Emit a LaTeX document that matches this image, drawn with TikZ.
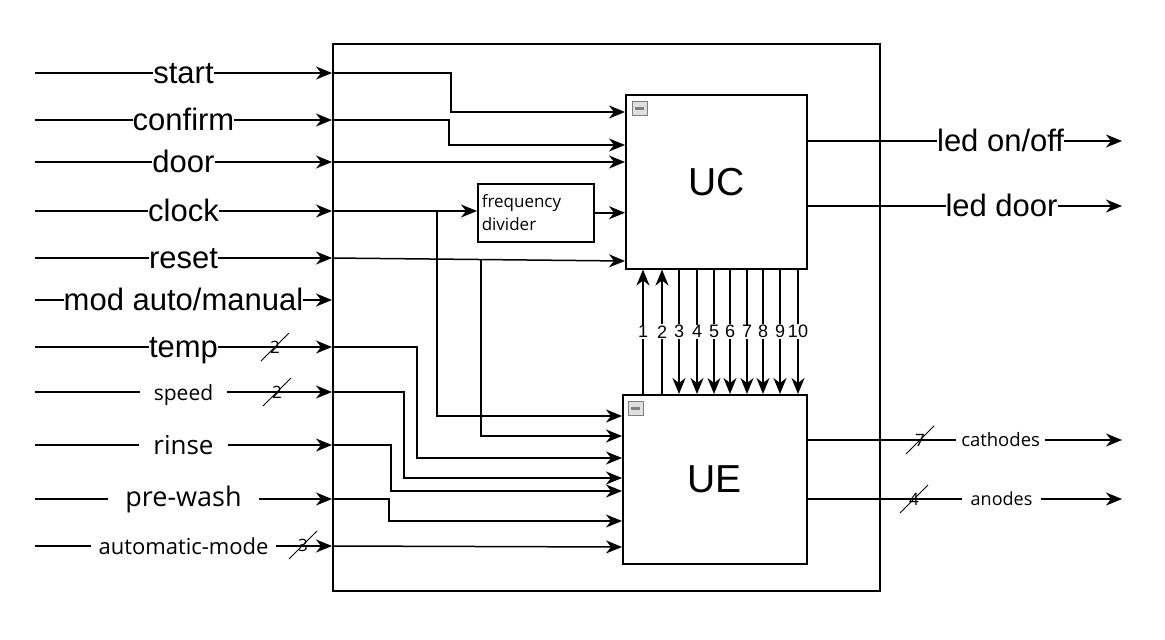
\documentclass[tikz,border=0pt]{standalone}
\usepackage{fontspec}
\setmainfont{Liberation Sans}
\newfontfamily\segoe{Open Sans}
\usetikzlibrary{arrows.meta,positioning,calc}

\begin{document}
\begin{tikzpicture}[x=1pt, y=-1pt,
  arr/.style={-{Stealth[length=16pt,width=13pt,inset=5pt]}, line width=1.5pt},
  blk/.style={draw, line width=1.5pt, anchor=north west, inner sep=0pt},
  biglbl/.style={font=\fontsize{31}{31}\selectfont, fill=white, inner sep=0pt, text height=28pt, text depth=8pt},
  smlbl/.style={font=\segoe\fontsize{#1}{#1}\selectfont, fill=white, inner ysep=0pt},
  numlbl/.style={font=\fontsize{18}{18}\selectfont, fill=white, inner sep=1pt},
  busline/.style={line width=0.9pt},
  busnum/.style={font=\segoe\fontsize{17}{17}\selectfont, inner sep=0pt},
  minus/.style={draw=gray, line width=0.8pt, fill=gray!25, minimum width=15pt, minimum height=14pt, inner sep=0pt, anchor=north west,
    path picture={\draw[line width=2.6pt] ([xshift=3pt]path picture bounding box.west) -- ([xshift=-3pt]path picture bounding box.east);}}
]
  \useasboundingbox (0,0) rectangle (1165,640);

  % blocks
  \node[blk, minimum width=547pt, minimum height=547pt] (sys) at (332,43) {};
  \node[blk, minimum width=181pt, minimum height=174pt, font=\fontsize{39}{39}\selectfont] (uc) at (625,94) {UC};
  \node[blk, minimum width=184pt, minimum height=169pt, font=\fontsize{39}{39}\selectfont] (ue) at (622,394) {UE};
  \node[blk, minimum width=116pt, minimum height=58pt, text width=108pt, inner sep=4pt, align=left,
    font=\segoe\fontsize{17}{23}\selectfont] (fdiv) at (477,183) {frequency\\divider};
  \node[minus] (uc-min) at ([shift={(7,7)}]uc.north west) {};
  \node[minus] (ue-min) at ([shift={(6,7)}]ue.north west) {};

  % inputs
  \coordinate (in-start) at (35,73);
  \coordinate (in-confirm) at (35,120);
  \coordinate (in-door) at (35,162);
  \coordinate (in-clock) at (35,211);
  \coordinate (in-reset) at (35,258);
  \coordinate (in-mode) at (35,300);
  \coordinate (in-temp) at (35,347);
  \coordinate (in-speed) at (35,392);
  \coordinate (in-rinse) at (35,445);
  \coordinate (in-prewash) at (35,499);
  \coordinate (in-auto) at (35,546);

  \draw[arr] (in-start) -- node[biglbl] (l-start) {start} (in-start -| sys.west);
  \draw[arr] (in-confirm) -- node[biglbl] (l-confirm) {confirm} (in-confirm -| sys.west);
  \draw[arr] (in-door) -- node[biglbl] (l-door) {door} (in-door -| sys.west);
  \draw[arr] (in-clock) -- node[biglbl] (l-clock) {clock} (in-clock -| sys.west);
  \draw[arr] (in-reset) -- node[biglbl] (l-reset) {reset} (in-reset -| sys.west);
  \draw[arr] (in-mode) -- node[biglbl] (l-mode) {mod auto/manual} (in-mode -| sys.west);
  \draw[arr] (in-temp) -- node[biglbl] (l-temp) {temp} (in-temp -| sys.west);
  \draw[arr] (in-speed) -- node[smlbl=21, inner xsep=14pt, yshift=-3pt] (l-speed) {speed} (in-speed -| sys.west);
  \draw[arr] (in-rinse) -- node[smlbl=26, inner xsep=14pt] (l-rinse) {rinse} (in-rinse -| sys.west);
  \draw[arr] (in-prewash) -- node[smlbl=27, inner xsep=17pt] (l-prewash) {pre-wash} (in-prewash -| sys.west);
  \draw[arr] (in-auto) -- node[smlbl=22, inner xsep=8pt] (l-auto) {automatic-mode} (in-auto -| sys.west);

  % bus widths
  \foreach \nm/\x/\y/\n in {b-temp/275/347/2, b-speed/277/392/2, b-auto/303/545/3, b-cath/920/440/7, b-an/914/499/4}{
    \draw[busline] (\x-14,\y+14) -- (\x+14,\y-14);
    \node[busnum] (\nm) at (\x,\y) {\n};
  }

  % routing to UC
  \draw[arr] (in-start -| sys.west) -| (451,112) -- (uc.west |- 0,112);
  \draw[arr] (in-confirm -| sys.west) -| (449,145) -- (uc.west |- 0,145);
  \draw[arr] (in-door -| sys.west) -- (uc.west |- in-door);
  \draw[arr] (in-clock -| sys.west) -- (fdiv.west |- in-clock);
  \draw[arr] (fdiv.east) -- (uc.west |- fdiv.east);
  \draw[arr] (in-reset -| sys.west) -- (uc.west |- 0,261);

  % routing to UE
  \coordinate (clk-split) at (437,211);
  \coordinate (rst-split) at (481,259);
  \draw[arr] (clk-split) |- (ue.west |- 0,416);
  \draw[arr] (rst-split) |- (ue.west |- 0,436);
  \draw[arr] (in-temp -| sys.west) -| (417,458) -- (ue.west |- 0,458);
  \draw[arr] (in-speed -| sys.west) -| (404,478) -- (ue.west |- 0,478);
  \draw[arr] (in-rinse -| sys.west) -| (391,491) -- (ue.west |- 0,491);
  \draw[arr] (in-prewash -| sys.west) -| (389,521) -- (ue.west |- 0,521);
  \draw[arr] (in-auto -| sys.west) -- (ue.west |- 0,547);

  % UC <-> UE
  \foreach \n/\x in {1/643, 2/662}
    \draw[arr] (ue.north -| \x,0) -- node[numlbl] {\n} (uc.south -| \x,0);
  \foreach \n/\x in {3/679, 4/697, 5/714, 6/730, 7/747, 8/763, 9/780, 10/798}
    \draw[arr] (uc.south -| \x,0) -- node[numlbl] {\n} (ue.north -| \x,0);

  % outputs
  \coordinate (out-onoff) at (1122,141);
  \coordinate (out-door) at (1122,206);
  \coordinate (out-cath) at (1122,440);
  \coordinate (out-an) at (1122,499);
  \draw[arr] (uc.east |- out-onoff) -- node[biglbl, pos=0.614] (l-onoff) {led on/off} (out-onoff);
  \draw[arr] (uc.east |- out-door) -- node[biglbl, pos=0.617] (l-ledd) {led door} (out-door);
  \draw[arr] (ue.east |- out-cath) -- node[smlbl=18.5, inner xsep=5pt, pos=0.614] (l-cath) {cathodes} (out-cath);
  \draw[arr] (ue.east |- out-an) -- node[smlbl=18, inner xsep=9pt, pos=0.617] (l-an) {anodes} (out-an);
\end{tikzpicture}
\end{document}
